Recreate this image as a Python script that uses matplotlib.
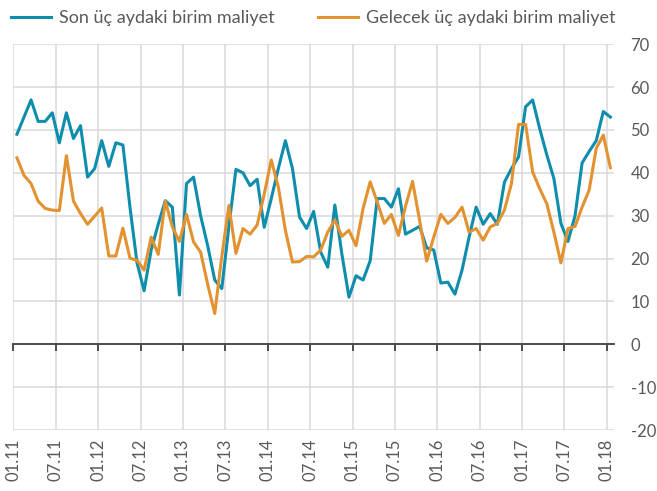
import numpy as np
import matplotlib
matplotlib.use("Agg")
import matplotlib.pyplot as plt

plt.rcParams['font.family'] = ['Lato', 'DejaVu Sans']
plt.rcParams['axes.unicode_minus'] = False

# monthly series, 01.11 .. 01.18
son_uc_ay = [49, 53, 57, 52, 52, 54, 47, 54, 48, 51, 39, 41, 47.5, 41.5, 47, 46.5, 32, 19,
             12.5, 22, 28, 33.5, 32, 11.5, 37.5, 39, 30, 23, 15, 13, 27.5, 40.8, 40, 37,
             38.5, 27.3, 34, 41, 47.5, 41, 29.7, 27, 31, 21.5, 18, 32.5, 21, 11, 16, 15,
             19.5, 34, 34, 32, 36.3, 25.7, 26.6, 27.5, 22.5, 22, 14.3, 14.5, 11.7, 17.3,
             25, 32, 28, 30.5, 28, 37.8, 41, 43.7, 55.4, 57, 50.3, 44.2, 38.7, 28.2, 24,
             30, 42.3, 45, 47.5, 54.3, 53]
gelecek_uc_ay = [43.5, 39.4, 37.5, 33.4, 31.7, 31.3, 31.2, 44, 33.4, 30.5, 28, 29.9, 31.8,
                 20.6, 20.6, 27.1, 20.1, 19.6, 17.3, 25, 21, 33.4, 27.4, 24, 30.3, 23.9,
                 21.5, 14, 7.2, 20.5, 32.4, 21.2, 27, 25.7, 27.8, 35, 43, 36.7, 26.6, 19.2,
                 19.3, 20.5, 20.4, 22, 26.2, 29, 25.2, 26.6, 23, 31.7, 37.9, 33.2, 28.2,
                 30.3, 25.4, 32.2, 38, 28.9, 19.4, 25, 30.3, 28.2, 29.6, 32, 26.2, 27, 24.3,
                 27.4, 28.2, 31.3, 37.5, 51.3, 51.3, 40.2, 36.3, 32.8, 26.2, 19, 27, 27.5,
                 32, 36, 45.7, 48.8, 41.2]
tick_labels = ['01.11', '07.11', '01.12', '07.12', '01.13', '07.13', '01.14', '07.14',
               '01.15', '07.15', '01.16', '07.16', '01.17', '07.17', '01.18']

blue = '#0E8DAD'
orange = '#E2922F'
grey = '#595959'

x = np.arange(len(son_uc_ay))
tick_pos = np.arange(0, len(x), 6) - 0.5

fig = plt.figure(figsize=(6.57, 4.91), dpi=100)
ax = fig.add_axes([0.0204, 0.124, 0.914, 0.786])

ax.plot(x, son_uc_ay, color=blue, lw=2.2, label='Son üç aydaki birim maliyet', zorder=3)
ax.plot(x, gelecek_uc_ay, color=orange, lw=2.2, label='Gelecek üç aydaki birim maliyet', zorder=3)

ax.set_xlim(-0.5, len(x) - 0.5)
ax.set_ylim(-20, 70)
ax.set_yticks(np.arange(-20, 71, 10))
ax.yaxis.tick_right()
ax.tick_params(axis='y', length=0, pad=12, labelsize=12, labelcolor=grey)
ax.grid(True, axis='y', color='#D9D9D9', lw=1.1, zorder=0)

for s in ['top', 'left', 'right']:
    ax.spines[s].set_visible(False)
ax.spines['bottom'].set_position(('data', 0))
ax.spines['bottom'].set_color('#404040')
ax.spines['bottom'].set_linewidth(1.3)
ax.set_xticks(tick_pos)
ax.tick_params(axis='x', direction='out', length=5, width=1.3, color='#404040',
               labelbottom=False)
for p in tick_pos:
    ax.axvline(p, color='#D9D9D9', lw=1.1, zorder=0)

sec = ax.secondary_xaxis(0)
sec.set_xticks(tick_pos)
sec.set_xticklabels(tick_labels, rotation=90)
sec.tick_params(length=0, pad=6, labelsize=12, labelcolor=grey)
sec.spines['bottom'].set_visible(False)

fig.legend(loc='upper left', bbox_to_anchor=(-0.008, 1.012), ncol=2, frameon=False,
           fontsize=13, handlelength=2.2, columnspacing=2.4, handletextpad=0.45,
           labelcolor=grey)

fig.savefig('out.png', dpi=100)
